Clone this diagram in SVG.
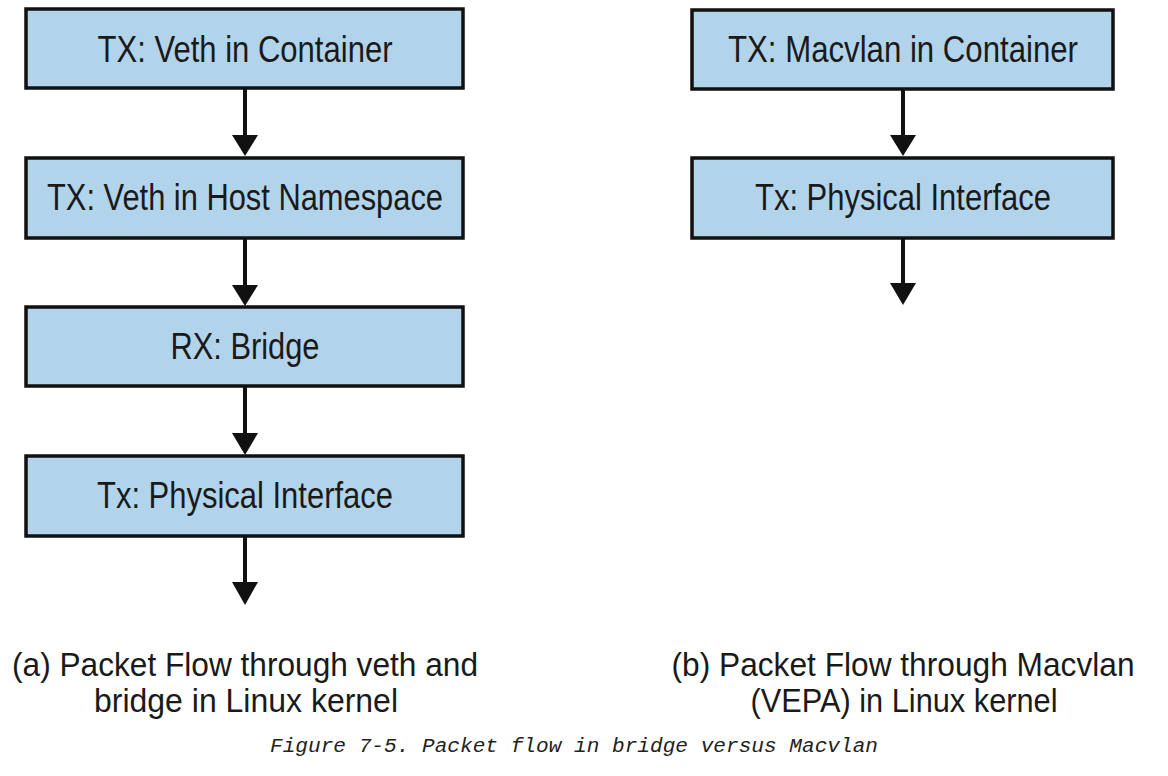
<svg xmlns="http://www.w3.org/2000/svg" width="1168" height="776" viewBox="0 0 1168 776">
<defs>
<style>
.box{fill:#b2d4ea;stroke:#111;stroke-width:3.5}
.lbl{font-family:"Liberation Sans",Arial,sans-serif;font-size:37px;fill:#1a1a1a;text-anchor:middle}
.cap{font-family:"Liberation Sans",Arial,sans-serif;font-size:34px;fill:#1a1a1a;text-anchor:middle}
.fig{font-family:"Liberation Mono","Courier New",monospace;font-style:italic;font-size:20.5px;fill:#222}
.ln{stroke:#111;stroke-width:4;fill:none}
.ah{fill:#111}
</style>
</defs>
<rect width="1168" height="776" fill="#fff"/>
<g id="connectors">
<line class="ln" x1="245" y1="89" x2="245" y2="138"/>
<polygon class="ah" points="232,135 258,135 245,156"/>
<line class="ln" x1="245" y1="238" x2="245" y2="288"/>
<polygon class="ah" points="232,285 258,285 245,306"/>
<line class="ln" x1="245" y1="386" x2="245" y2="436"/>
<polygon class="ah" points="232,433 258,433 245,455"/>
<line class="ln" x1="245" y1="536" x2="245" y2="585"/>
<polygon class="ah" points="232,582 258,582 245,605"/>
<line class="ln" x1="903" y1="90" x2="903" y2="138"/>
<polygon class="ah" points="890,135 916,135 903,156"/>
<line class="ln" x1="903" y1="238" x2="903" y2="286"/>
<polygon class="ah" points="890,283 916,283 903,305"/>
</g>
<g id="node-a1">
<rect class="box" x="26" y="9" width="437" height="79"/>
<text class="lbl" x="245" y="62" textLength="295" lengthAdjust="spacingAndGlyphs">TX: Veth in Container</text>
</g>
<g id="node-a2">
<rect class="box" x="26" y="158" width="437" height="80"/>
<text class="lbl" x="245" y="210" textLength="396" lengthAdjust="spacingAndGlyphs">TX: Veth in Host Namespace</text>
</g>
<g id="node-a3">
<rect class="box" x="26" y="307" width="437" height="79"/>
<text class="lbl" x="245" y="359" textLength="149" lengthAdjust="spacingAndGlyphs">RX: Bridge</text>
</g>
<g id="node-a4">
<rect class="box" x="26" y="456" width="437" height="80"/>
<text class="lbl" x="245" y="508" textLength="296" lengthAdjust="spacingAndGlyphs">Tx: Physical Interface</text>
</g>
<g id="node-b1">
<rect class="box" x="692" y="10" width="421" height="79"/>
<text class="lbl" x="903" y="62" textLength="350" lengthAdjust="spacingAndGlyphs">TX: Macvlan in Container</text>
</g>
<g id="node-b2">
<rect class="box" x="692" y="158" width="421" height="80"/>
<text class="lbl" x="903" y="210" textLength="296" lengthAdjust="spacingAndGlyphs">Tx: Physical Interface</text>
</g>
<g id="captions">
<text class="cap" x="245" y="676" textLength="466" lengthAdjust="spacingAndGlyphs">(a) Packet Flow through veth and</text>
<text class="cap" x="246" y="712" textLength="304" lengthAdjust="spacingAndGlyphs">bridge in Linux kernel</text>
<text class="cap" x="903" y="676" textLength="463" lengthAdjust="spacingAndGlyphs">(b) Packet Flow through Macvlan</text>
<text class="cap" x="904" y="712" textLength="307" lengthAdjust="spacingAndGlyphs">(VEPA) in Linux kernel</text>
<text class="fig" x="270" y="752" textLength="608" lengthAdjust="spacingAndGlyphs">Figure 7-5. Packet flow in bridge versus Macvlan</text>
</g>
</svg>
